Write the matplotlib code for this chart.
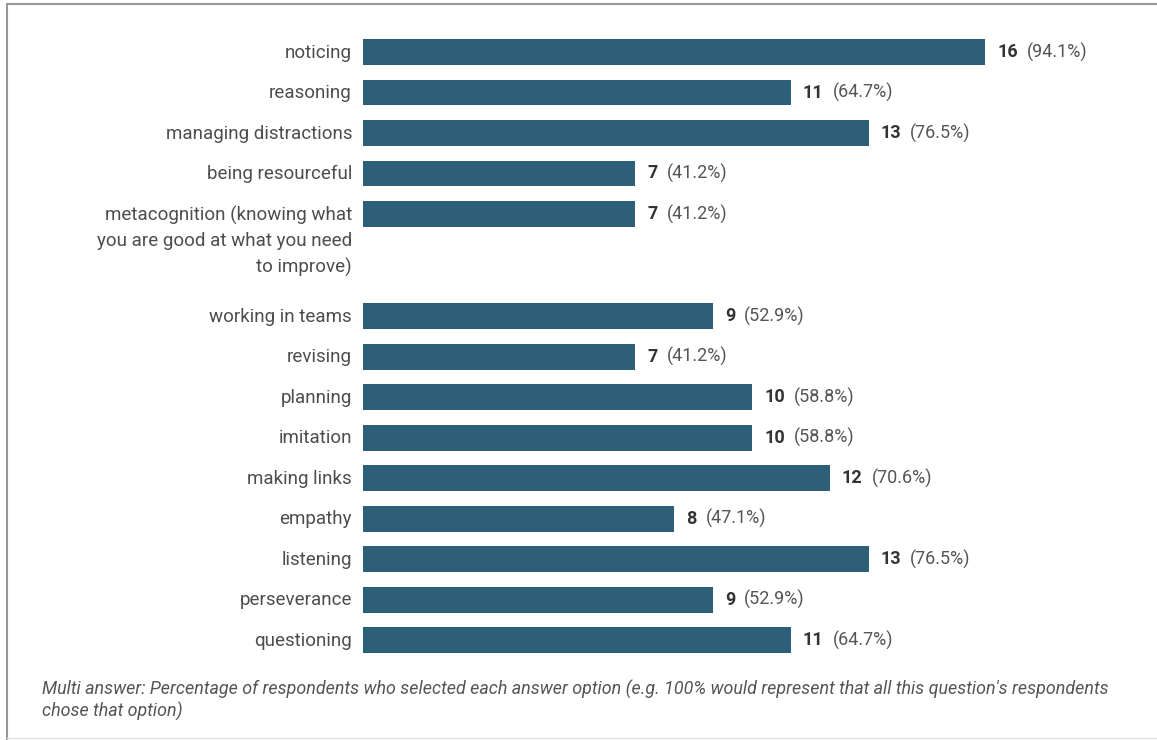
import matplotlib
matplotlib.use("Agg")
from matplotlib import pyplot as plt
from matplotlib.lines import Line2D
from matplotlib import transforms

plt.rcParams['font.family'] = ['Roboto', 'DejaVu Sans']

# 选项名称、人数、百分比
labels = ["noticing", "reasoning", "managing distractions", "being resourceful",
          "metacognition (knowing what\nyou are good at what you need\nto improve)",
          "working in teams", "revising", "planning", "imitation", "making links",
          "empathy", "listening", "perseverance", "questioning"]
counts = [16, 11, 13, 7, 7, 9, 7, 10, 10, 12, 8, 13, 9, 11]
pcts = [94.1, 64.7, 76.5, 41.2, 41.2, 52.9, 41.2, 58.8, 58.8, 70.6, 47.1, 76.5, 52.9, 64.7]

bar_color = "#2e5f78"
label_color = "#4d4d4d"

# 多行标签占用更多位置
pos = []
y = 0.0
for lab in labels:
    pos.append(y)
    y += 1 + 0.76 * lab.count("\n")

W, H = 1157, 740
fig = plt.figure(figsize=(W / 100, H / 100), dpi=100)
px = 38.9  # 每个单位的像素
ax = fig.add_axes([363 / W, 1 - 660 / H, 20 * px / W, 630 / H])
ax.set_xlim(0, 20)
ax.set_ylim((660 - 52) / 40.5, (30 - 52) / 40.5)
ax.axis("off")

ax.barh(pos, counts, height=0.64, color=bar_color)

lab_off = transforms.offset_copy(ax.transData, fig=fig, x=-11, y=0, units="dots")
for p, lab in zip(pos, labels):
    ax.text(0, p - 0.2, lab, transform=lab_off, ha="right", va="top",
            fontsize=13.5, color=label_color, linespacing=1.5)

fig.canvas.draw()
renderer = fig.canvas.get_renderer()
for p, c, pc in zip(pos, counts, pcts):
    num_tr = transforms.offset_copy(ax.transData, fig=fig, x=12, y=0, units="dots")
    t = ax.text(c, p, str(c), transform=num_tr, ha="left", va="center",
                fontsize=13, fontweight="bold", color="#333333")
    bb = t.get_window_extent(renderer)
    x_disp = bb.x1 + 9
    ax.text(x_disp, bb.y0 + bb.height / 2, "(%.1f%%)" % pc, transform=None,
            ha="left", va="center", fontsize=13, color="#555555")

fig.text(42 / W, 1 - 689 / H,
         "Multi answer: Percentage of respondents who selected each answer option "
         "(e.g. 100% would represent that all this question's respondents",
         fontsize=12.9, style="italic", color="#555555", va="center")
fig.text(42 / W, 1 - 711 / H, "chose that option)",
         fontsize=12.9, style="italic", color="#555555", va="center")

# 边框
fig.add_artist(Line2D([7 / W, 1], [1 - 4 / H, 1 - 4 / H], transform=fig.transFigure,
                      color="#999999", lw=1.5))
fig.add_artist(Line2D([7 / W, 7 / W], [1 - 4 / H, 0], transform=fig.transFigure,
                      color="#999999", lw=1.5))
fig.add_artist(Line2D([7 / W, 1], [1 - 738 / H, 1 - 738 / H], transform=fig.transFigure,
                      color="#e3e3e3", lw=1))

fig.savefig("out.png", dpi=100)
